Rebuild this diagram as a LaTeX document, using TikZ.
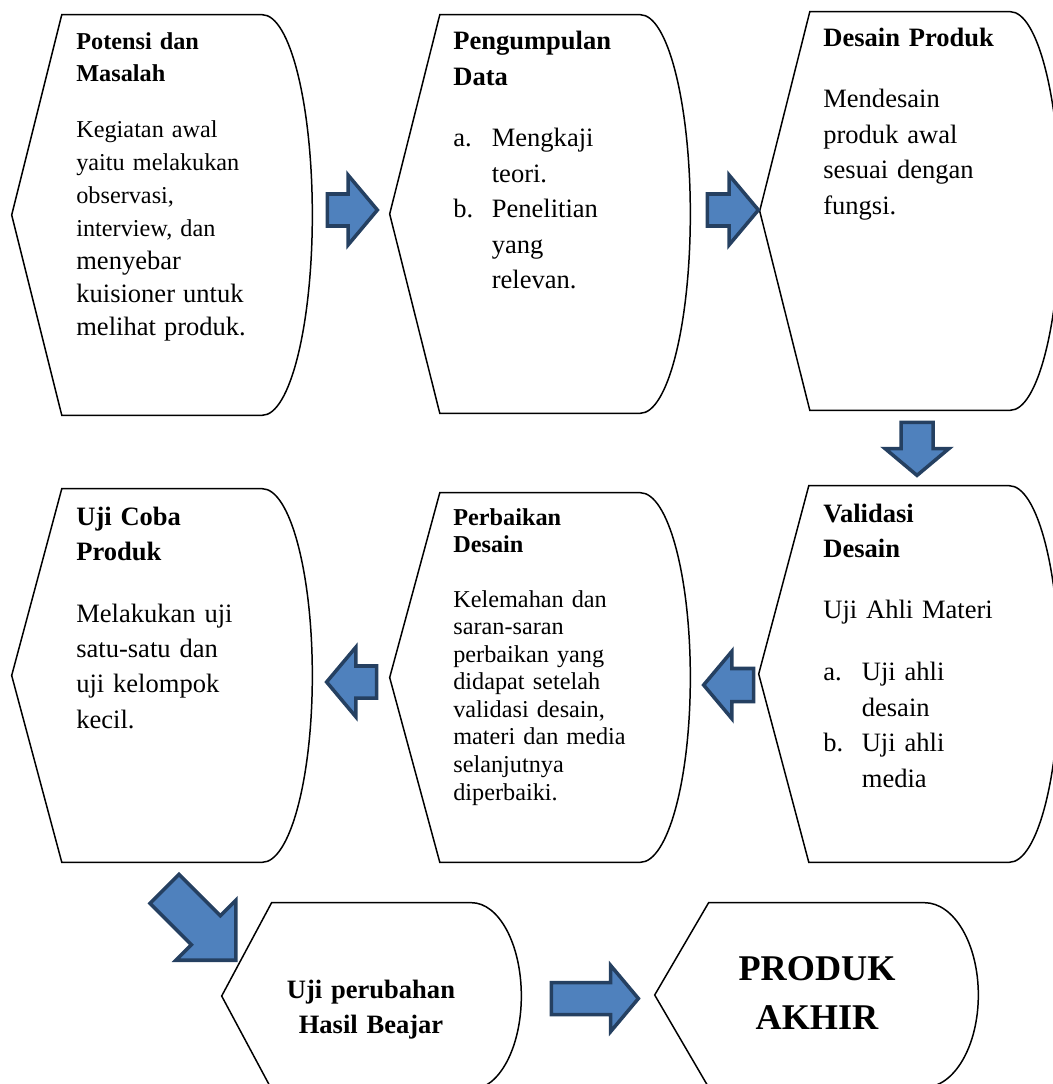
\documentclass[tikz,border=0pt]{standalone}
\usepackage{fontspec}
\setmainfont{Liberation Serif}
\usetikzlibrary{calc,shapes.arrows}
\definecolor{arrowfill}{RGB}{79,129,189}
\definecolor{arrowline}{RGB}{37,64,97}
\newcommand\lbl[1]{\makebox[0.77cm][l]{#1}}
\newcommand\ind{\hspace*{0.77cm}}
\begin{document}
\begin{tikzpicture}[x=0.02cm, y=-0.02cm,
  box/.style={rectangle, inner sep=0pt, minimum width=6cm},
  boxline/.style={draw=black, line width=0.85pt},
  hd/.style={anchor=base west, inner sep=0pt, align=left, text width=5cm, font=\bfseries\fontsize{15.1}{20.2}\selectfont},
  txt/.style={anchor=base west, inner sep=0pt, align=left, text width=5cm, font=\fontsize{15.1}{20.2}\selectfont},
  blk/.style n args={3}{single arrow, draw=arrowline, fill=arrowfill, line width=2pt, inner xsep=0pt,
    single arrow tip angle=100, minimum height=#1, inner ysep=#2, single arrow head extend=#3}]
  \useasboundingbox (0,0) rectangle (1053,1084);
  \clip (0,0) rectangle (1053,1084);
  \node[box, minimum height=8cm] (b1) at (162,215) {};
  \node[box, minimum height=7.96cm] (b2) at (540,214) {};
  \node[box, minimum height=7.96cm] (b3) at (910,211) {};
  \node[box, minimum height=7.52cm] (b4) at (909,674) {};
  \node[box, minimum height=7.38cm] (b5) at (540,677.5) {};
  \node[box, minimum height=7.46cm] (b6) at (162,675.5) {};
  \node[box, minimum width=5.98cm, minimum height=3.72cm] (b7) at (371.5,996) {};
  \node[box, minimum width=6.46cm, minimum height=3.68cm] (b8) at (816.5,995) {};
  \foreach \bx in {b1,b2,b3,b4,b5,b6,b7,b8}
    \draw[boxline] let \p1=(\bx.north west), \p2=(\bx.south east), \n1={(\x2-\x1)/6}, \n2={(\y1-\y2)/2} in
      (\bx.west) -- (\x1+\n1,\y1) -- (\x2-\n1,\y1) arc[start angle=90, end angle=-90, x radius=\n1, y radius=\n2]
      -- (\x1+\n1,\y2) -- cycle;
  \node[hd, font=\bfseries\fontsize{13.8}{18}\selectfont] (h1) at (76,50) {Potensi dan\\Masalah};
  \node[txt, font=\fontsize{13.8}{18.7}\selectfont] (t1) at (76,138) {Kegiatan awal\\yaitu melakukan\\observasi,\\interview, dan\\\fontsize{15.1}{18.7}\selectfont menyebar\\kuisioner untuk\\melihat produk.};
  \node[hd] (h2) at (453,50) {Pengumpulan\\Data};
  \node[txt] (t2) at (453,147) {\lbl{a.}Mengkaji\\\ind teori.\\\lbl{b.}Penelitian\\\ind yang\\\ind relevan.};
  \node[hd] (h3) at (823,47) {Desain Produk};
  \node[txt] (t3) at (823,108) {Mendesain\\produk awal\\sesuai dengan\\fungsi.};
  \node[hd] (h4) at (823,522) {Validasi\\Desain};
  \node[txt] (t4) at (823,618) {Uji Ahli Materi\\[0.55cm]\lbl{a.}Uji ahli\\\ind desain\\\lbl{b.}Uji ahli\\\ind media};
  \node[hd, font=\bfseries\fontsize{13.8}{15.9}\selectfont] (h5) at (453,525) {Perbaikan\\Desain};
  \node[txt, font=\fontsize{13.8}{15.7}\selectfont] (t5) at (453,607) {Kelemahan dan\\saran-saran\\perbaikan yang\\didapat setelah\\validasi desain,\\materi dan media\\selanjutnya\\diperbaiki.};
  \node[hd] (h6) at (76,525) {Uji Coba\\Produk};
  \node[txt] (t6) at (76,622) {Melakukan uji\\satu-satu dan\\uji kelompok\\kecil.};
  \node[hd, anchor=base, align=center] (h7) at (371,998) {Uji perubahan\\Hasil Beajar};
  \node[hd, anchor=base, align=center, font=\bfseries\fontsize{20.6}{28.4}\selectfont] (h8) at (817,980) {PRODUK\\AKHIR};
  \node[blk={1cm}{0.285cm}{0.375cm}, anchor=tip] (a1) at ($(b2.west)+(-10,-4)$) {};
  \node[blk={1.02cm}{0.285cm}{0.375cm}, anchor=tip] (a2) at ($(b3.west)+(1,-1)$) {};
  \node[blk={1.06cm}{0.285cm}{0.32cm}, rotate=-90, anchor=tip] (a3) at ($(b4.north)+(8,-8)$) {};
  \node[blk={1cm}{0.295cm}{0.345cm}, rotate=180, anchor=tip] (a4) at ($(b5.east)+(11,7.5)$) {};
  \node[blk={1cm}{0.285cm}{0.375cm}, rotate=180, anchor=tip] (a5) at ($(b6.east)+(12,6.5)$) {};
  \node[blk={2.02cm}{0.375cm}{0.44cm}, single arrow tip angle=90, rotate=-45, anchor=tip] (a6) at ($(b7.west)+(16,-34)$) {};
  \node[blk={1.74cm}{0.285cm}{0.34cm}, anchor=tip] (a7) at ($(b8.west)+(-14,3.5)$) {};
\end{tikzpicture}
\end{document}
